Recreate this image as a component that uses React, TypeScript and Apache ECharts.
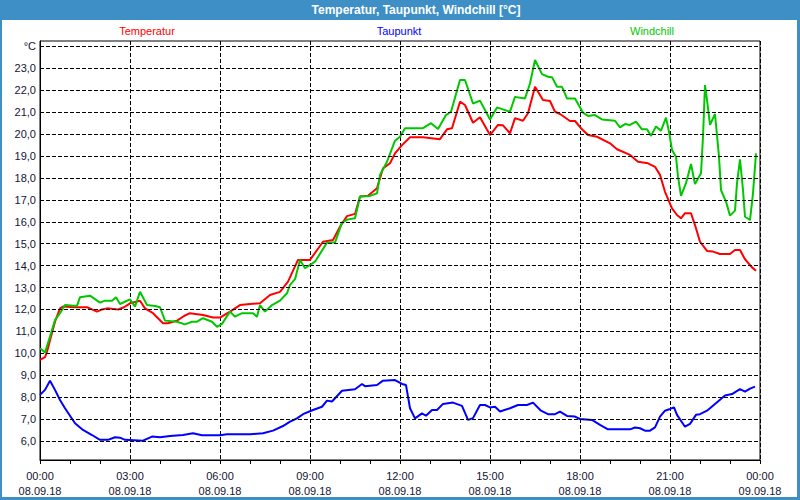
import React, { useEffect, useRef } from "react";
import * as echarts from "echarts";

// time in minutes since 08.09.18 00:00, value in °C
const temperatur: [number, number][] = [
  [0, 9.7], [10, 9.82], [14, 10.07], [20, 10.6], [30, 11.44], [40, 12.05], [46, 12.13], [70, 12.1], [94, 12.1],
  [104, 12.0], [114, 11.9], [124, 12.0], [134, 12.05], [156, 12.0], [168, 12.1], [180, 12.28], [200, 12.4],
  [210, 12.05], [226, 11.83], [236, 11.6], [246, 11.37], [256, 11.37], [274, 11.49], [288, 11.7], [300, 11.83],
  [326, 11.75], [346, 11.63], [360, 11.63], [380, 11.9], [400, 12.2], [420, 12.25], [440, 12.28], [460, 12.66],
  [480, 12.8], [496, 13.27], [516, 14.26], [540, 14.26], [566, 15.09], [586, 15.17], [600, 15.78], [614, 16.26],
  [630, 16.36], [640, 17.15], [656, 17.19], [674, 17.53], [686, 18.44], [700, 18.67], [710, 19.12], [724, 19.5],
  [740, 19.86], [766, 19.86], [800, 19.77], [814, 20.22], [824, 20.27], [840, 21.48], [850, 21.33], [866, 20.52],
  [880, 20.77], [900, 19.96], [916, 20.42], [926, 20.4], [940, 20.04], [950, 20.73], [966, 20.61], [976, 20.95],
  [990, 22.16], [1006, 21.56], [1020, 21.51], [1030, 21.02], [1040, 20.92], [1060, 20.6], [1070, 20.6],
  [1084, 20.22], [1096, 19.96], [1114, 19.88], [1140, 19.58], [1154, 19.31], [1180, 19.05], [1196, 18.74],
  [1216, 18.67], [1230, 18.51], [1240, 18.14], [1250, 17.37], [1264, 16.61], [1274, 16.31], [1282, 16.16],
  [1290, 16.39], [1302, 16.39], [1310, 15.85], [1320, 15.09], [1334, 14.67], [1346, 14.64], [1360, 14.53],
  [1380, 14.53], [1390, 14.71], [1400, 14.71], [1410, 14.29], [1424, 13.92], [1432, 13.77],
];

const taupunkt: [number, number][] = [
  [0, 8.1], [10, 8.33], [20, 8.75], [30, 8.33], [40, 7.87], [50, 7.49], [70, 6.81], [86, 6.5], [104, 6.27],
  [120, 6.05], [136, 6.05], [150, 6.17], [160, 6.15], [170, 6.05], [206, 6.01], [224, 6.2], [240, 6.17],
  [260, 6.23], [286, 6.27], [306, 6.35], [324, 6.26], [360, 6.26], [374, 6.3], [420, 6.3], [446, 6.35],
  [466, 6.47], [486, 6.68], [500, 6.88], [514, 7.03], [526, 7.22], [546, 7.41], [564, 7.56], [574, 7.84],
  [584, 7.8], [604, 8.29], [630, 8.36], [644, 8.6], [650, 8.5], [674, 8.55], [686, 8.75], [710, 8.78],
  [724, 8.6], [732, 8.55], [740, 7.49], [750, 7.03], [764, 7.26], [772, 7.15], [784, 7.41], [794, 7.41],
  [806, 7.69], [826, 7.75], [844, 7.6], [856, 6.96], [866, 7.04], [880, 7.64], [890, 7.64], [900, 7.53],
  [910, 7.56], [920, 7.34], [940, 7.49], [956, 7.64], [974, 7.64], [986, 7.75], [1002, 7.38], [1016, 7.22],
  [1030, 7.22], [1040, 7.34], [1054, 7.14], [1070, 7.11], [1080, 7.0], [1104, 6.96], [1120, 6.73],
  [1136, 6.53], [1180, 6.53], [1190, 6.61], [1200, 6.58], [1210, 6.47], [1220, 6.47], [1230, 6.62],
  [1240, 7.11], [1250, 7.38], [1260, 7.46], [1268, 7.53], [1274, 7.19], [1290, 6.65], [1300, 6.78],
  [1312, 7.19], [1320, 7.22], [1334, 7.38], [1350, 7.69], [1370, 8.07], [1384, 8.14], [1400, 8.36],
  [1410, 8.25], [1420, 8.39], [1430, 8.48],
];

const windchill: [number, number][] = [
  [0, 10.23], [10, 10.03], [20, 10.76], [30, 11.52], [40, 11.83], [50, 12.2], [74, 12.16], [80, 12.56],
  [100, 12.63], [120, 12.31], [130, 12.4], [144, 12.4], [152, 12.56], [160, 12.25], [180, 12.46], [190, 12.13],
  [200, 12.81], [214, 12.2], [230, 12.16], [240, 12.1], [250, 11.49], [274, 11.44], [290, 11.32], [304, 11.44],
  [314, 11.44], [326, 11.6], [344, 11.44], [354, 11.21], [364, 11.34], [380, 11.9], [390, 11.67], [404, 11.83],
  [426, 11.83], [434, 11.67], [440, 12.2], [450, 11.9], [464, 12.2], [480, 12.4], [494, 12.74], [500, 13.12],
  [510, 13.38], [520, 14.26], [530, 13.88], [550, 14.18], [574, 15.05], [590, 15.05], [604, 15.96],
  [616, 16.11], [630, 16.16], [640, 17.15], [660, 17.18], [674, 17.3], [680, 18.14], [694, 18.74], [710, 19.7],
  [720, 19.88], [730, 20.27], [766, 20.27], [782, 20.5], [796, 20.23], [812, 20.87], [822, 21.02], [840, 22.47],
  [850, 22.47], [866, 21.4], [880, 21.53], [900, 20.67], [914, 21.22], [940, 21.02], [950, 21.7], [970, 21.63],
  [980, 22.31], [990, 23.38], [1004, 22.74], [1016, 22.62], [1024, 22.6], [1034, 22.16], [1044, 22.16],
  [1054, 21.63], [1070, 21.63], [1086, 20.98], [1096, 20.83], [1110, 20.87], [1124, 20.67], [1150, 20.61],
  [1160, 20.31], [1170, 20.46], [1180, 20.42], [1192, 20.57], [1204, 20.22], [1214, 20.22], [1222, 19.92],
  [1232, 20.35], [1242, 20.16], [1252, 20.75], [1258, 20.11], [1264, 19.28], [1272, 18.97], [1276, 18.06],
  [1282, 17.18], [1292, 17.76], [1302, 18.64], [1310, 17.72], [1322, 18.21], [1326, 19.88], [1330, 22.24],
  [1334, 21.56], [1340, 20.42], [1350, 20.92], [1358, 18.97], [1362, 17.45], [1372, 16.92], [1380, 16.28],
  [1390, 16.51], [1394, 17.76], [1400, 18.85], [1406, 17.45], [1410, 16.23], [1420, 16.08], [1426, 17.3],
  [1432, 19.12],
];

const xTickLabels = [
  "00:00\n08.09.18", "03:00\n08.09.18", "06:00\n08.09.18", "09:00\n08.09.18", "12:00\n08.09.18",
  "15:00\n08.09.18", "18:00\n08.09.18", "21:00\n08.09.18", "00:00\n09.09.18",
];
const yTickValues = [6, 7, 8, 9, 10, 11, 12, 13, 14, 15, 16, 17, 18, 19, 20, 21, 22, 23, 24];
const yTickLabels = [
  "6,0", "7,0", "8,0", "9,0", "10,0", "11,0", "12,0", "13,0", "14,0", "15,0", "16,0", "17,0", "18,0",
  "19,0", "20,0", "21,0", "22,0", "23,0", "°C",
];

const seriesNames = ["Temperatur", "Taupunkt", "Windchill"];
const seriesColors = ["#ff0000", "#0000ff", "#00c800"];

const FONT = "'Liberation Sans', Arial, sans-serif";
const LABEL_COLOR = "#141432";
const FRAME_BLUE = "#3d8fc5";
const DASH = [4, 2];

export default function App() {
  const ref = useRef<HTMLDivElement>(null);
  useEffect(() => {
    const chart = echarts.init(ref.current!, null, { renderer: "svg" });
    const dataSets = [temperatur, taupunkt, windchill];
    chart.setOption({
      animation: false,
      backgroundColor: "#ffffff",
      grid: { left: 40, right: 40, top: 41, bottom: 40, show: true, borderColor: "#000", borderWidth: 1, backgroundColor: "#fff" },
      xAxis: {
        type: "value",
        min: 0,
        max: 1440,
        interval: 180,
        axisLine: { show: true, lineStyle: { color: "#000", width: 1 } },
        axisTick: { show: true, length: 4, inside: false, lineStyle: { color: "#000" } },
        minorTick: { show: true, splitNumber: 3, length: 4, lineStyle: { color: "#000" } },
        splitLine: { show: true, lineStyle: { color: "#000", type: DASH, width: 1 } },
        axisLabel: {
          show: true,
          margin: 8,
          color: LABEL_COLOR,
          fontSize: 11,
          fontFamily: FONT,
          lineHeight: 15,
          formatter: (v: number) => xTickLabels[Math.round(v / 180)] ?? "",
        },
      },
      yAxis: {
        type: "value",
        min: 5.13,
        max: 24.25,
        axisLine: { show: true, lineStyle: { color: "#000" } },
        axisTick: { show: false },
        axisLabel: { show: false },
        splitLine: { show: false },
      },
      graphic: [
        { type: "rect", shape: { x: 0, y: 0, width: 800, height: 20 }, style: { fill: FRAME_BLUE }, silent: true },
        { type: "rect", shape: { x: 0, y: 20, width: 2, height: 480 }, style: { fill: FRAME_BLUE }, silent: true },
        { type: "rect", shape: { x: 797, y: 20, width: 3, height: 480 }, style: { fill: FRAME_BLUE }, silent: true },
        { type: "rect", shape: { x: 0, y: 497, width: 800, height: 3 }, style: { fill: FRAME_BLUE }, silent: true },
        {
          type: "text", x: 416, y: 10, silent: true,
          style: { text: "Temperatur, Taupunkt, Windchill [°C]", fill: "#fff", font: `bold 12px ${FONT}`, textAlign: "center", textVerticalAlign: "middle" },
        },
        {
          type: "text", x: 147, y: 31, silent: true,
          style: { text: seriesNames[0], fill: seriesColors[0], font: `11px ${FONT}`, textAlign: "center", textVerticalAlign: "middle" },
        },
        {
          type: "text", x: 399, y: 31, silent: true,
          style: { text: seriesNames[1], fill: seriesColors[1], font: `11px ${FONT}`, textAlign: "center", textVerticalAlign: "middle" },
        },
        {
          type: "text", x: 652, y: 31, silent: true,
          style: { text: seriesNames[2], fill: seriesColors[2], font: `11px ${FONT}`, textAlign: "center", textVerticalAlign: "middle" },
        },
      ],
      series: [
        {
          type: "line",
          name: "grid",
          data: [],
          z: 1,
          silent: true,
          markLine: {
            silent: true,
            symbol: ["none", "none"],
            lineStyle: { color: "#000", type: DASH, width: 1 },
            emphasis: { disabled: true },
            label: {
              show: true,
              position: "start",
              distance: 4,
              color: LABEL_COLOR,
              fontSize: 11,
              fontFamily: FONT,
              formatter: (p: any) => {
                const i = yTickValues.indexOf(Math.round(p.value));
                return i >= 0 ? yTickLabels[i] : "";
              },
            },
            data: yTickValues.map((v) => ({ yAxis: v })),
          },
        },
        ...dataSets.map((d, i) => ({
          type: "line",
          name: seriesNames[i],
          data: d,
          z: 3,
          showSymbol: false,
          symbol: "none",
          lineStyle: { color: seriesColors[i], width: 2 },
          itemStyle: { color: seriesColors[i] },
        })),
      ],
    });
    return () => chart.dispose();
  }, []);
  return (
    <div
      ref={ref}
      style={{ position: "fixed", left: 0, top: 0, width: 800, height: 500, background: "#fff" }}
    />
  );
}
